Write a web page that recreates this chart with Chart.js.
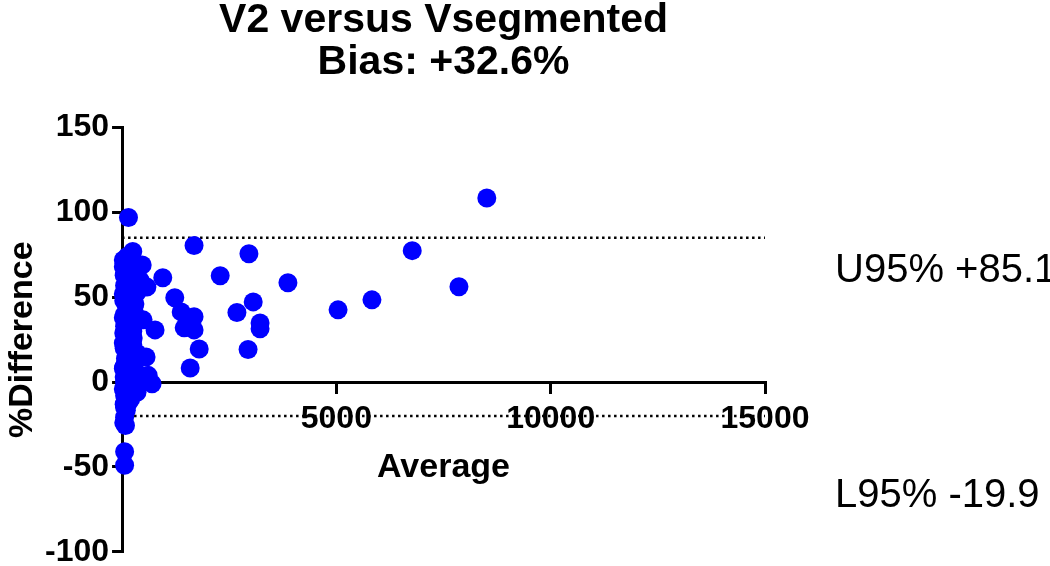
<!DOCTYPE html>
<html>
<head>
<meta charset="utf-8">
<script src="https://cdn.jsdelivr.net/npm/chart.js@4.4.1/dist/chart.umd.min.js"></script>
<style>
  html, body { margin: 0; padding: 0; background: #fff; overflow: hidden; }
  #wrap { width: 1050px; height: 574px; }
</style>
</head>
<body>
<div id="wrap"><canvas id="baChart"></canvas></div>
<script>
// Bland-Altman: average of the two methods vs % difference
const avgValues = [
    8510, 6770, 7860, 5830, 5040, 3870, 2960, 2290, 3060, 2680,
    3220, 3220, 2940, 1680, 950, 1230, 1380, 1680, 1450, 1680,
    770, 1800, 1590, 700, 610, 560, 490, 580, 470, 150,
    // dense cluster near zero
    250, 200, 150, 350, 100, 50, 300, 420, 150, 60,
    250, 350, 100, 200, 40, 300, 120, 60, 220, 150,
    300, 80, 40, 180, 100, 250, 50, 150, 350, 80,
    200, 40, 300, 120, 200, 60, 400, 250, 100, 350,
    60, 200, 50, 100, 60, 80, 60, 60,
    30, 120, 220, 30, 160, 30, 250, 100, 30, 180,
    30, 280, 120, 30, 200, 90,
    120, 220, 60, 150, 40, 250, 150, 250, 80, 300,
    30, 120, 200, 100, 280, 150, 60, 220, 100, 180,
    50, 260, 130, 90
];
const diffValues = [
    108.5, 77.5, 56.2, 48.5, 42.6, 58.6, 75.7, 62.7, 47.3, 41.0,
    34.9, 31.4, 19.2, 80.5, 61.5, 49.7, 41.4, 38.5, 32.0, 30.8,
    30.8, 19.5, 8.3, -1, 4, 14.8, 36.7, 56, 69, 97,
    77, 72, 68, 69, 65, 63, 64, 60, 60, 57,
    57, 53, 52, 50, 48, 46, 44, 40, 40, 37,
    35, 33, 29, 28, 25, 22, 20, 18, 17, 14,
    11, 9, 7, 5, 2, 0, 1, -3, -5, -6,
    -8, -10, -13, -16.6, -20.7, -25.6, -41, -49,
    68, 62, 55, 52, 45, 38, 30, 27, 23, 15,
    8, 4, -2, -4, -9, 12,
    10, 20, -15, -12, -24, 10, 45, 48, 56, 58,
    72, 74, 63, 36, 42, 24, 33, 6, 19, 31,
    3, 26, 49, -11
];

const upperLimit = 85.1;
const lowerLimit = -19.9;
const limitRange = [0, 15000];

const titleLines = ['V2 versus Vsegmented', 'Bias: +32.6%'];

const fontFamily = '"Liberation Sans", Arial, sans-serif';

const scatterData = avgValues.map((x, i) => ({ x: x, y: diffValues[i] }));

// labels for the limits of agreement, written right of the plot
const limitLabels = {
    id: 'limitLabels',
    afterDraw(chart) {
        const ctx = chart.ctx;
        const yScale = chart.scales.y;
        const left = chart.chartArea.right + 70;
        ctx.save();
        ctx.font = '40px ' + fontFamily;
        ctx.fillStyle = '#000';
        ctx.textBaseline = 'alphabetic';
        ctx.fillText('U95% +' + upperLimit, left, yScale.getPixelForValue(upperLimit) + 44);
        ctx.fillText('L95% ' + lowerLimit, left, yScale.getPixelForValue(lowerLimit) + 91);
        ctx.restore();
    }
};

const ctx = document.getElementById('baChart').getContext('2d');
new Chart(ctx, {
    type: 'scatter',
    data: {
        datasets: [{
            label: 'Difference',
            data: scatterData,
            backgroundColor: '#0000ff',
            borderWidth: 0,
            pointRadius: 9.5,
            pointHoverRadius: 9.5,
            clip: false,
            order: 1
        },
        {
            type: 'line',
            label: 'U95',
            data: limitRange.map(x => ({ x: x, y: upperLimit })),
            borderColor: '#000',
            borderWidth: 2.5,
            borderDash: [2.5, 3.5],
            pointRadius: 0,
            order: 2
        },
        {
            type: 'line',
            label: 'L95',
            data: limitRange.map(x => ({ x: x, y: lowerLimit })),
            borderColor: '#000',
            borderWidth: 2.5,
            borderDash: [2.5, 3.5],
            pointRadius: 0,
            order: 2
        }]
    },
    options: {
        responsive: true,
        maintainAspectRatio: false,
        animation: false,
        devicePixelRatio: 1,
        layout: {
            padding: { left: 6, right: 285, top: 0, bottom: 1 }
        },
        plugins: {
            legend: { display: false },
            tooltip: { enabled: false },
            title: {
                display: true,
                text: titleLines,
                fullSize: false,
                color: '#000',
                font: { family: fontFamily, size: 41, weight: 'bold', lineHeight: 1.02 },
                padding: { top: 0, bottom: 44 }
            }
        },
        scales: {
            x: {
                type: 'linear',
                position: { y: 0 },
                min: 0,
                max: 15000,
                ticks: {
                    stepSize: 5000,
                    color: '#000',
                    padding: 8,
                    maxRotation: 0,
                    font: { family: fontFamily, size: 32, weight: 'bold' },
                    callback: v => v === 0 ? '' : v
                },
                grid: {
                    drawOnChartArea: false,
                    drawTicks: true,
                    tickLength: 10,
                    lineWidth: 3,
                    color: '#000'
                },
                border: { display: true, width: 3, color: '#000' },
                title: {
                    display: true,
                    text: 'Average',
                    color: '#000',
                    font: { family: fontFamily, size: 34, weight: 'bold' },
                    padding: { top: 1 }
                }
            },
            y: {
                type: 'linear',
                position: 'left',
                min: -100,
                max: 150,
                ticks: {
                    stepSize: 50,
                    color: '#000',
                    padding: 3,
                    font: { family: fontFamily, size: 32, weight: 'bold' }
                },
                grid: {
                    drawOnChartArea: false,
                    drawTicks: true,
                    tickLength: 10,
                    lineWidth: 3,
                    color: '#000'
                },
                border: { display: true, width: 3, color: '#000' },
                title: {
                    display: true,
                    text: '%Difference',
                    color: '#000',
                    font: { family: fontFamily, size: 34, weight: 'bold', lineHeight: 1.0 },
                    padding: { top: 0, bottom: 2 }
                }
            }
        }
    },
    plugins: [limitLabels]
});
</script>
</body>
</html>
